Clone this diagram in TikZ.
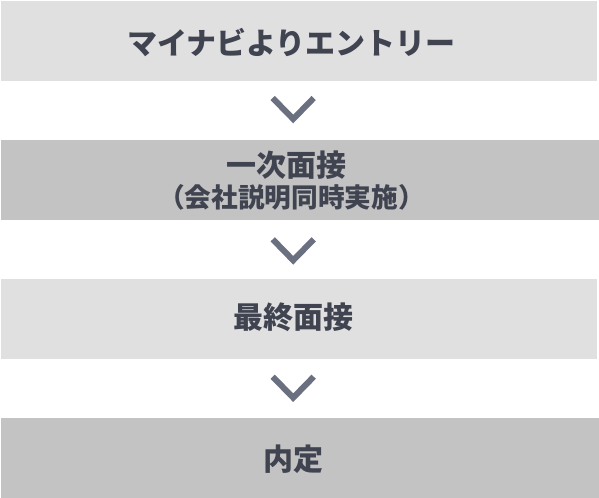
\documentclass[tikz,border=0pt]{standalone}
\usepackage{fontspec}
\newfontfamily\jpfont{Noto Sans CJK JP}
\definecolor{boxlight}{RGB}{224,224,224}
\definecolor{boxdark}{RGB}{195,195,195}
\definecolor{textdark}{RGB}{64,67,80}
\definecolor{chevgray}{RGB}{107,112,128}

\tikzset{every picture/.style={line width=0.75pt}}
\tikzset{
  stepbox/.style={draw=none, inner sep=0pt, minimum height=60pt},
  lightbox/.style={stepbox, fill=boxlight, minimum width=447pt},
  darkbox/.style={stepbox, fill=boxdark, minimum width=448.5pt},
  steplabel/.style={inner sep=0.75pt, text=textdark, align=center,
    font=\jpfont\bfseries\fontsize{22.5}{24}\selectfont},
  subsmall/.style={steplabel, font=\jpfont\bfseries\fontsize{20}{22}\selectfont},
  chevron/.style={draw=chevgray, line width=4.5pt, line join=miter, line cap=butt}
}

\begin{document}
\begin{tikzpicture}[x=0.75pt,y=0.75pt,yscale=-1,xscale=1]
\path[use as bounding box] (0,0) rectangle (599,497);

% Boxes
\node[lightbox] (entry) at (299,41) {};
\node[darkbox] (first) at (300,180) {};
\node[lightbox] (final) at (299,318.5) {};
\node[darkbox] (offer) at (300,457.5) {};

% Chevrons
\foreach \nm/\cy in {arrA/108.5, arrB/249.8, arrC/387.2}{
  \coordinate (\nm) at (293.2,\cy);
  \draw[chevron] ([shift={(-20.5,-10.5)}]\nm) -- ([shift={(0,10.5)}]\nm) -- ([shift={(20.5,-10.5)}]\nm);
}

% Text Node
\node[steplabel] (entrytxt) at (291.5,43) {マイナビよりエントリー};
% Text Node
\node[steplabel] (firsttxt) at (286.5,165) {一次面接};
% Text Node
\node[subsmall] (firstsub) at (291.5,197) {（会社説明同時実施）};
% Text Node
\node[steplabel] (finaltxt) at (293,317) {最終面接};
% Text Node
\node[steplabel] (offertxt) at (293,459) {内定};

\end{tikzpicture}
\end{document}
